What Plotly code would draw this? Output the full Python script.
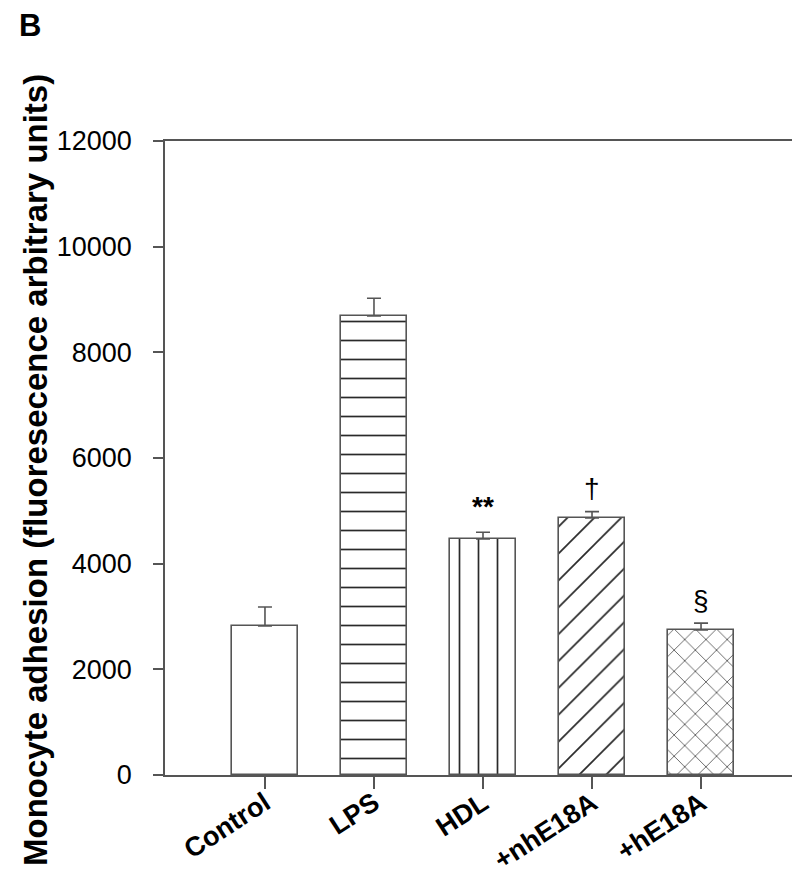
import plotly.graph_objects as go

categories = ["Control", "LPS", "HDL", "+nhE18A", "+hE18A"]
means = [2820, 8690, 4470, 4865, 2745]
errors = [360, 335, 125, 120, 130]
sig_labels = ["", "", "**", "\u2020", "\u00a7"]
y_ticks = [0, 2000, 4000, 6000, 8000, 10000, 12000]

patterns = ["", "-", "|", "/", "x"]
pattern_sizes = [10, 19, 19, 19, 15]

FONT = "Liberation Sans, Arial, sans-serif"
EDGE = "#555555"

fig = go.Figure()
fig.add_trace(go.Bar(
    x=categories,
    y=means,
    width=0.605,
    marker=dict(
        color="white",
        line=dict(color=EDGE, width=1.6),
        pattern=dict(shape=patterns, size=pattern_sizes, solidity=0.09,
                     fgcolor="#2a2a2a", bgcolor="white", fillmode="replace"),
    ),
    error_y=dict(type="data", symmetric=False, array=errors,
                 arrayminus=[0] * len(errors), color=EDGE, thickness=1.6, width=7),
    showlegend=False,
))

for cat, m, e, lab in zip(categories, means, errors, sig_labels):
    if lab:
        fig.add_annotation(
            x=cat, y=m + e, text=lab, showarrow=False, yanchor="middle",
            yshift=26 if lab == "**" else 23,
            font=dict(family=FONT, size=28, color="black",
                      weight="bold" if lab == "**" else "normal"),
        )

fig.update_layout(
    width=800, height=877,
    margin=dict(l=157, r=7, t=133, b=110, autoexpand=False),
    paper_bgcolor="white", plot_bgcolor="white",
    font=dict(family=FONT, color="black"),
    bargap=0,
    xaxis=dict(
        type="category",
        range=[-0.917, 4.917],
        automargin=False,
        showline=True, linecolor=EDGE, linewidth=1.6, mirror=True,
        ticks="outside", ticklen=12, tickcolor=EDGE, tickwidth=1.6,
        tickangle=-33,
        tickfont=dict(family=FONT, size=27, color="black", weight="bold"),
        ticklabelstandoff=-12,
        showgrid=False, zeroline=False,
    ),
    yaxis=dict(
        range=[0, 12000],
        automargin=False,
        tickvals=y_ticks,
        ticktext=[str(v) for v in y_ticks],
        showline=True, linecolor=EDGE, linewidth=1.6, mirror=True,
        ticks="outside", ticklen=10, tickcolor=EDGE, tickwidth=1.6,
        tickfont=dict(family=FONT, size=27, color="black"),
        ticklabelstandoff=16,
        showgrid=False, zeroline=False,
    ),
)

fig.add_annotation(
    xref="paper", yref="paper", x=(22 - 157) / 636, y=(767 - 17) / 634,
    text="<b>B</b>", showarrow=False, xanchor="center", yanchor="middle",
    font=dict(family=FONT, size=31, color="black"),
)
fig.add_annotation(
    xref="paper", yref="paper", x=(27 - 157) / 636, y=(767 - 462) / 634,
    text="<b>Monocyte adhesion (fluoresecence arbitrary units)</b>",
    textangle=-90, showarrow=False, xanchor="center", yanchor="middle",
    font=dict(family=FONT, size=33, color="black"),
)

fig.write_html("out.html")
